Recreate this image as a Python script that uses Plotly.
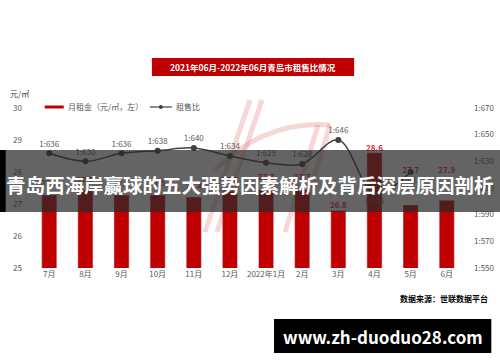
import plotly.graph_objects as go

# ---------------- data ----------------
months = ["7月", "8月", "9月", "10月", "11月", "12月", "2022年1月", "2月", "3月", "4月", "5月", "6月"]
rent = [27.28, 27.44, 27.28, 27.28, 27.22, 27.40, 27.44, 27.44, 26.80, 28.60, 26.97, 27.12]
rent_labels = ["27.5", "27.6", "27.5", "27.5", "27.4", "27.6", "27.7", "27.7", "26.8", "28.6", "27.7", "27.9"]
rent_label_vals = [27.5, 27.6, 27.5, 27.5, 27.4, 27.6, 27.7, 27.7, 26.8, 28.6, 27.9, 27.9]
ratio = [636, 630, 636, 638, 640, 634, 629, 628, 646, 606, 622, None]
ratio_labels = ["1:636", "1:630", "1:636", "1:638", "1:640", "1:634", "1:629", "1:628", "1:646", "1:606", "1:622", ""]
ratio_label_pos = ["top center"] * 9 + ["bottom center", "bottom center", "top center"]
left_ticks = [25, 26, 27, 28, 29, 30]
right_ticks = [550, 570, 590, 610, 630, 650, 670]
right_tick_text = ["1:550", "1:570", "1:590", "1:610", "1:630", "1:650", "1:670"]

W, H = 500, 362
L, R, T, B = 23.3, 472.7, 108, 268
def px(x):
    return (x - L) / (R - L)
def py(y):
    return (B - y) / (B - T)

FONT = "Noto Sans CJK SC"
RED = "#C00000"
GRAY = "#595959"

fig = go.Figure()
fig.add_trace(go.Bar(x=months, y=rent, marker_color=RED, width=0.42, name="月租金（元/㎡，左）",
                     showlegend=False))
fig.add_trace(go.Scatter(x=months, y=rent_label_vals, mode="text", text=rent_labels,
                         textposition="top center",
                         textfont=dict(color="#E0282E", size=8, family=FONT, weight="bold"),
                         showlegend=False, hoverinfo="skip"))
fig.add_trace(go.Scatter(x=months, y=ratio, yaxis="y2", mode="lines+markers+text",
                         line=dict(color="#404040", width=1.5, shape="spline"),
                         marker=dict(color="#404040", size=6),
                         text=ratio_labels, textposition=ratio_label_pos,
                         textfont=dict(color=GRAY, size=8, family=FONT),
                         name="租售比", showlegend=False))

shapes = []
annotations = []

def note(x, y, text, font, xanchor="center"):
    annotations.append(dict(xref="paper", yref="paper", x=px(x), y=py(y), text=text, showarrow=False,
                            xanchor=xanchor, yanchor="middle", font=font))

# faint pink watermark logo
for (x0, y0, x1, y1) in [(250, 100, 205, 232), (262, 100, 217, 232), (318, 125, 285, 232), (330, 125, 297, 232)]:
    shapes.append(dict(type="line", xref="paper", yref="paper", x0=px(x0), y0=py(y0), x1=px(x1), y1=py(y1),
                       line=dict(color="rgba(225,120,120,0.3)", width=5), layer="below"))
shapes.append(dict(type="path", xref="paper", yref="paper",
                   path="M %f %f Q %f %f %f %f" % (px(215), py(170), px(265), py(120), px(330), py(125)),
                   line=dict(color="rgba(225,120,120,0.3)", width=5), layer="below"))

# title box
shapes.append(dict(type="rect", xref="paper", yref="paper", x0=px(152), x1=px(354), y0=py(58), y1=py(76),
                   fillcolor=RED, line=dict(width=0)))
note(253, 67, "<b>2021年06月-2022年06月青岛市租售比情况</b>", dict(color="white", size=8.5, family=FONT))
# unit
note(8, 93, "元/㎡", dict(color="#404040", size=8, family=FONT), "left")
# legend
shapes.append(dict(type="rect", xref="paper", yref="paper", x0=px(45), x1=px(64), y0=py(105.5), y1=py(108.5),
                   fillcolor=RED, line=dict(width=0)))
note(66, 107, "月租金（元/㎡，左）", dict(color=GRAY, size=8, family=FONT), "left")
shapes.append(dict(type="line", xref="paper", yref="paper", x0=px(150), x1=px(172), y0=py(107), y1=py(107),
                   line=dict(color="#404040", width=1.2)))
shapes.append(dict(type="circle", xref="paper", yref="paper", x0=px(159), x1=px(163), y0=py(105), y1=py(109),
                   fillcolor="#404040", line=dict(width=0)))
note(174, 107, "租售比", dict(color=GRAY, size=8, family=FONT), "left")
# source
note(490, 298, "<b>数据来源：世联数据平台</b>", dict(color="black", size=8, family=FONT), "right")

# overlay banner
shapes.append(dict(type="rect", xref="paper", yref="paper", x0=px(0), x1=px(500), y0=py(150), y1=py(212),
                   fillcolor="rgba(40,40,40,0.72)", line=dict(width=0), layer="above"))
shapes.append(dict(type="rect", xref="paper", yref="paper", x0=px(0), x1=px(6), y0=py(150), y1=py(212),
                   fillcolor="black", line=dict(width=0), layer="above"))
note(250, 184, "<b>青岛西海岸赢球的五大强势因素解析及背后深层原因剖析</b>",
     dict(color="white", size=19.5, family=FONT))
# bottom watermark
shapes.append(dict(type="rect", xref="paper", yref="paper", x0=px(274), x1=px(491), y0=py(319), y1=py(353),
                   fillcolor="black", line=dict(width=0), layer="above"))
note(382.5, 336, "<b>www.zh-duoduo28.com</b>", dict(color="white", size=17, family=FONT))

fig.update_layout(
    width=W, height=H,
    margin=dict(l=L, r=W - R, t=T, b=H - B, pad=0, autoexpand=False),
    paper_bgcolor="white", plot_bgcolor="white",
    showlegend=False,
    xaxis=dict(type="category", showgrid=False, showline=False, ticks="", automargin=False, tickangle=0,
               tickfont=dict(color=GRAY, size=8, family=FONT), fixedrange=True),
    yaxis=dict(range=[25, 30], tickvals=left_ticks, showgrid=False, zeroline=False, showline=False,
               automargin=False, tickfont=dict(color=GRAY, size=8, family=FONT), ticks=""),
    yaxis2=dict(range=[550, 670], tickvals=right_ticks, ticktext=right_tick_text, overlaying="y", side="right",
                showgrid=False, zeroline=False, showline=False, automargin=False,
                tickfont=dict(color=GRAY, size=8, family=FONT), ticks=""),
    shapes=shapes, annotations=annotations,
)
fig.write_html("out.html", config={"displayModeBar": False},
               post_script="document.body.style.margin='0';document.body.style.overflow='hidden';")
